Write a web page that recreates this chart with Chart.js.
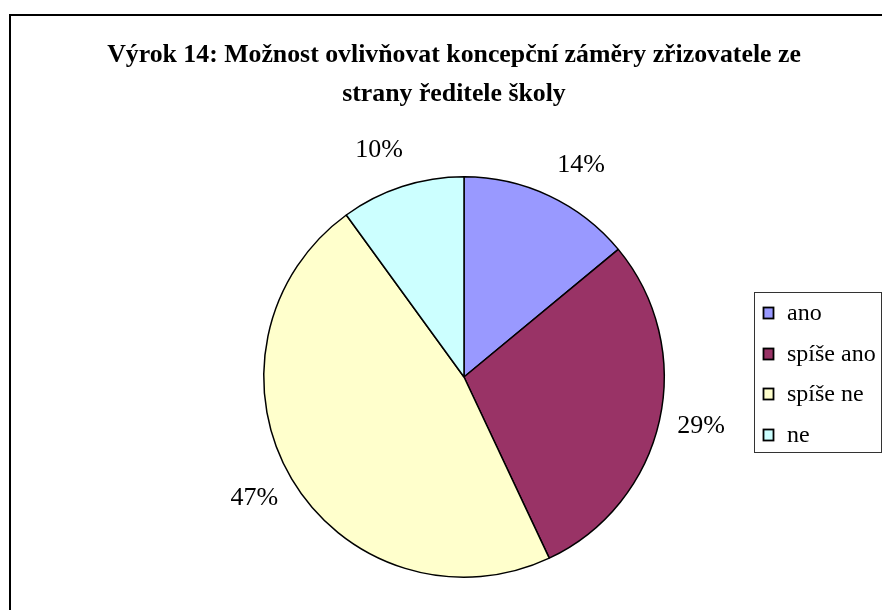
<!DOCTYPE html>
<html>
<head>
<meta charset="utf-8">
<script src="https://cdn.jsdelivr.net/npm/chart.js@4/dist/chart.umd.min.js"></script>
<style>
  body { margin: 0; background: #fff; }
  #wrap { width: 882px; height: 610px; }
</style>
</head>
<body>
<div id="wrap"><canvas id="pieChart" width="882" height="610"></canvas></div>
<script>
const titleLines = ["Výrok 14: Možnost ovlivňovat koncepční záměry zřizovatele ze", "strany ředitele školy"];
const categories = ["ano", "spíše ano", "spíše ne", "ne"];
const percentages = [14, 29, 47, 10];
const sliceColors = ["#9999FF", "#993366", "#FFFFCC", "#CCFFFF"];

const serif = '"Liberation Serif", "Times New Roman", serif';
// small angular tweak (degrees) so labels sit clear of the slice edges
const labelNudge = [3.7, -0.8, 0.6, -2.5];

// frame, title, outside percentage labels and boxed legend
const decorations = {
  id: 'decorations',
  beforeDraw(chart) {
    const ctx = chart.ctx;
    ctx.save();
    ctx.fillStyle = '#fff';
    ctx.fillRect(0, 0, chart.width, chart.height);
    ctx.strokeStyle = '#000';
    ctx.lineWidth = 2;
    ctx.strokeRect(10, 15, 900, 700);
    ctx.restore();
  },
  afterDraw(chart) {
    const ctx = chart.ctx;
    ctx.save();
    ctx.fillStyle = '#000';
    ctx.textAlign = 'center';
    ctx.textBaseline = 'alphabetic';
    ctx.font = 'bold 25.8px ' + serif;
    ctx.fillText(titleLines[0], 454, 62);
    ctx.fillText(titleLines[1], 454, 101);

    // percentage labels outside each slice
    ctx.textBaseline = 'middle';
    ctx.font = '26px ' + serif;
    const arcs = chart.getDatasetMeta(0).data;
    arcs.forEach((arc, i) => {
      const mid = (arc.startAngle + arc.endAngle) / 2 + labelNudge[i] * Math.PI / 180;
      const r = arc.outerRadius + 42;
      ctx.fillText(percentages[i] + '%', arc.x + Math.cos(mid) * r, arc.y + Math.sin(mid) * r);
    });

    // legend
    ctx.strokeStyle = '#333';
    ctx.lineWidth = 1;
    ctx.strokeRect(754.5, 292.5, 127, 160);
    ctx.font = '24px ' + serif;
    ctx.textAlign = 'left';
    categories.forEach((name, i) => {
      const y = Math.round(313 + i * 40.7);
      ctx.fillStyle = sliceColors[i];
      ctx.fillRect(763, y - 6, 11, 12);
      ctx.strokeStyle = '#000';
      ctx.lineWidth = 1.8;
      ctx.strokeRect(763.5, y - 5.5, 10, 11);
      ctx.fillStyle = '#000';
      ctx.fillText(name, 787, y + 1);
    });
    ctx.restore();
  }
};

new Chart(document.getElementById('pieChart'), {
  type: 'pie',
  data: {
    labels: categories,
    datasets: [{
      data: percentages,
      backgroundColor: sliceColors,
      borderColor: '#000',
      borderWidth: 1.5
    }]
  },
  options: {
    responsive: false,
    animation: false,
    layout: { padding: { left: 263, top: 175, right: 217, bottom: 31 } },
    plugins: {
      legend: { display: false },
      tooltip: { enabled: false }
    }
  },
  plugins: [decorations]
});
</script>
</body>
</html>
